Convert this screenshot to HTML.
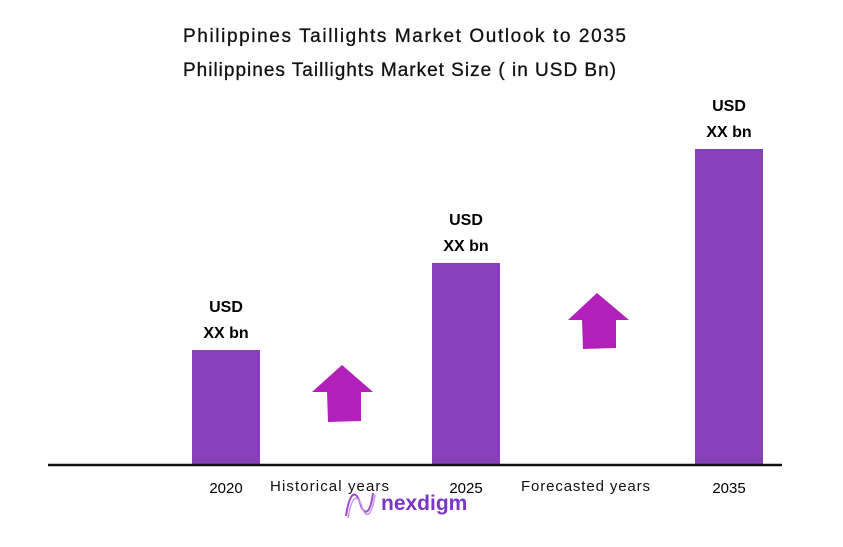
<!DOCTYPE html>
<html><head><meta charset="utf-8"><style>
body{margin:0;width:843px;height:547px;background:#fff;overflow:hidden;font-family:"Liberation Sans",sans-serif}
svg{display:block}
</style></head><body>
<svg width="843" height="547">
<text x="183" y="42" font-size="19" fill="#111" textLength="443" lengthAdjust="spacing" stroke="#111" stroke-width="0.3">Philippines  Taillights  Market Outlook to 2035</text>
<text x="183" y="76" font-size="19" fill="#111" textLength="433" lengthAdjust="spacing" stroke="#111" stroke-width="0.3">Philippines  Taillights  Market Size  ( in USD Bn)</text>
<g id="bars"></g>
<line x1="48" y1="465" x2="782" y2="465" stroke="#111" stroke-width="2.5"/>
<polygon points="342,365 373,392 361,392 361,421 328,422 327,392 312,392" fill="#b120b8"/>
<polygon points="597,293 629,320 616,320 616,348 583,349 582,320 568,320" fill="#b120b8"/>
<text x="270" y="491" font-size="15" fill="#111" textLength="119" lengthAdjust="spacing">Historical years</text>
<text x="521" y="491" font-size="15" fill="#111" textLength="129" lengthAdjust="spacing">Forecasted years</text>
<g>
<path d="M346,516 C350,490 356,490 360,503 C364,516 370,516 373,493" stroke="#a04ad0" stroke-width="2" fill="none"/>
<path d="M348,518 C352,494 358,494 362,507 C366,520 372,516 375,495" stroke="#c89ae8" stroke-width="1.5" fill="none"/>
<text x="381" y="510" font-size="21" font-weight="bold" fill="#7b35c8">nexdigm</text>
</g>
</svg>
<script>
const categories=["2020","2025","2035"];
const values=[1.15,2.02,3.16];
const labels=["XX bn","XX bn","XX bn"];
const svgNS="http://www.w3.org/2000/svg";
const g=document.getElementById('bars');
const xCenter=[226,466,729];
const base=465, scale=100, bw=68;
function y(v){return base-v*scale;}
categories.forEach((c,i)=>{
  const r=document.createElementNS(svgNS,'rect');
  r.setAttribute('x',xCenter[i]-bw/2);r.setAttribute('y',y(values[i]));
  r.setAttribute('width',bw);r.setAttribute('height',base-y(values[i]));
  r.setAttribute('fill','#8740b8');
  
  
  g.appendChild(r);
  const t1=document.createElementNS(svgNS,'text');
  t1.setAttribute('x',xCenter[i]);t1.setAttribute('y',y(values[i])-38);
  t1.setAttribute('text-anchor','middle');t1.setAttribute('font-size','16');t1.setAttribute('font-weight','bold');
  t1.textContent='USD';
  
  
  g.appendChild(t1);
  const t2=document.createElementNS(svgNS,'text');
  t2.setAttribute('x',xCenter[i]);t2.setAttribute('y',y(values[i])-12);
  t2.setAttribute('text-anchor','middle');t2.setAttribute('font-size','16');t2.setAttribute('font-weight','bold');
  t2.textContent=labels[i];
  
  
  g.appendChild(t2);
  const t3=document.createElementNS(svgNS,'text');
  t3.setAttribute('x',xCenter[i]);t3.setAttribute('y',493);
  t3.setAttribute('text-anchor','middle');t3.setAttribute('font-size','15');
  t3.textContent=c;
  
  
  g.appendChild(t3);
});
</script>
</body></html>
